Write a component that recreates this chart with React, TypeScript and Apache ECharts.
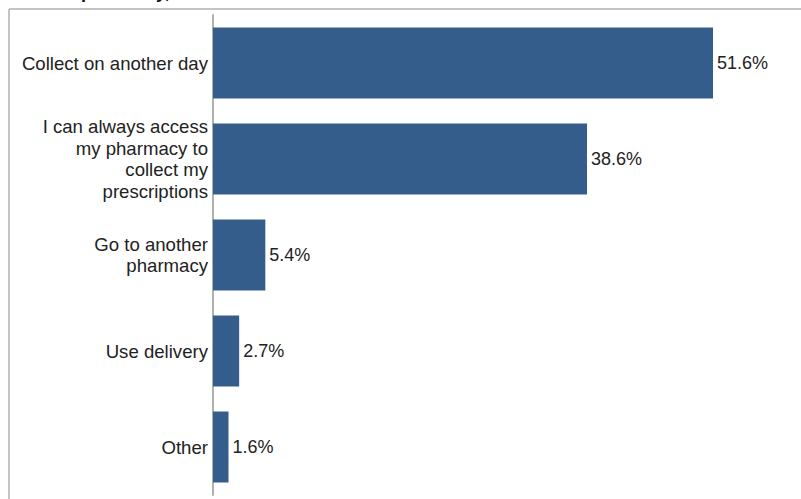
import React, { useEffect, useRef } from "react";
import * as echarts from "echarts";

const categories = [
  "Collect on another day",
  "I can always access\nmy pharmacy to\ncollect my\nprescriptions",
  "Go to another\npharmacy",
  "Use delivery",
  "Other",
];
const values = [51.6, 38.6, 5.4, 2.7, 1.6];
const titleText = "at the pharmacy, %";

export default function App() {
  const ref = useRef<HTMLDivElement>(null);
  useEffect(() => {
    if (!ref.current) return;
    const chart = echarts.init(ref.current, null, { renderer: "svg" });
    chart.setOption({
      animation: false,
      backgroundColor: "#ffffff",
      grid: { left: 213, top: 15, width: 581.4, height: 480, containLabel: false },
      xAxis: {
        type: "value",
        min: 0,
        max: 60,
        show: false,
      },
      yAxis: {
        type: "category",
        inverse: true,
        data: categories,
        axisLine: { show: true, lineStyle: { color: "#b0b0b0", width: 2 } },
        axisTick: { show: false },
        axisLabel: {
          color: "#222",
          fontSize: 18.6,
          fontFamily: "Liberation Sans, Arial, sans-serif",
          lineHeight: 21.7,
          align: "right",
          margin: 5,
        },
      },
      series: [
        {
          type: "bar",
          data: values,
          barCategoryGap: "26%",
          itemStyle: { color: "#345d8b" },
          label: {
            show: true,
            position: "right",
            distance: 4,
            color: "#222",
            fontSize: 18,
            fontFamily: "Liberation Sans, Arial, sans-serif",
            formatter: (p: any) => p.value.toFixed(1) + "%",
          },
        },
      ],
      graphic: [
        {
          type: "line",
          shape: { x1: 9, y1: 9, x2: 801, y2: 9 },
          style: { stroke: "#c4c4c4", lineWidth: 2 },
        },
        {
          type: "line",
          shape: { x1: 9, y1: 9, x2: 9, y2: 499 },
          style: { stroke: "#c4c4c4", lineWidth: 2 },
        },
        {
          type: "text",
          x: 28,
          y: 1,
          style: {
            text: titleText,
            fill: "#111",
            font: "bold 18px 'Liberation Sans', Arial, sans-serif",
            textVerticalAlign: "bottom",
          },
        },
      ],
    });
    return () => chart.dispose();
  }, []);
  return <div ref={ref} style={{ width: 801, height: 499, position: "absolute", left: 0, top: 0 }} />;
}
